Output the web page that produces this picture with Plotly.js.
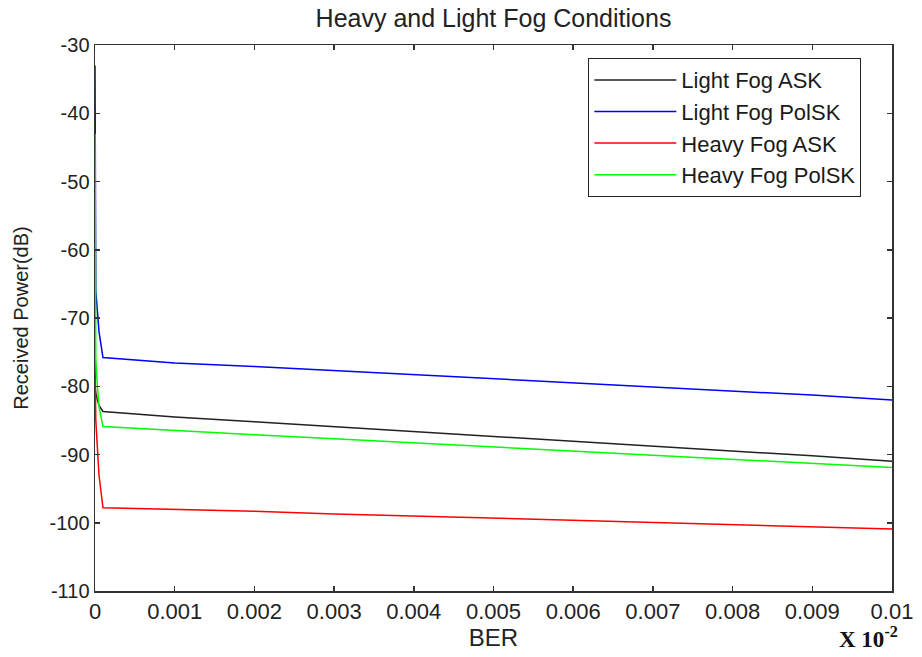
<!DOCTYPE html>
<html>
<head>
<meta charset="utf-8">
<script src="https://cdn.plot.ly/plotly-3.0.1.min.js"></script>
<style>html,body{margin:0;padding:0;background:#fff;}#chart{width:922px;height:657px;}</style>
</head>
<body>
<div id="chart"></div>
<script>
// BER (x) sample points
const ber = [0, 0.00001, 0.00003, 0.00005, 0.0001, 0.001, 0.002, 0.003, 0.004, 0.005, 0.006, 0.007, 0.008, 0.009, 0.01];
// Received power (dB)
const lightFogASK   = [-80, -81, -82, -82.8, -83.7, -84.5, -85.2, -85.9, -86.6, -87.3, -88.0, -88.7, -89.4, -90.2, -91.0];
const lightFogPolSK = [-33, -66, -69, -72, -75.8, -76.6, -77.1, -77.7, -78.3, -78.9, -79.4, -80.1, -80.7, -81.3, -82.0];
const heavyFogASK   = [-76, -85, -89, -93, -97.8, -98.0, -98.3, -98.7, -99.0, -99.3, -99.7, -100.0, -100.3, -100.6, -100.9];
const heavyFogPolSK = [-43, -76, -80, -83, -85.9, -86.5, -87.1, -87.7, -88.3, -88.9, -89.5, -90.1, -90.7, -91.3, -91.9];

const seriesNames = ['Light Fog ASK', 'Light Fog PolSK', 'Heavy Fog ASK', 'Heavy Fog PolSK'];
const xTickVals = [0, 0.001, 0.002, 0.003, 0.004, 0.005, 0.006, 0.007, 0.008, 0.009, 0.01];
const xTickText = ['0', '0.001', '0.002', '0.003', '0.004', '0.005', '0.006', '0.007', '0.008', '0.009', '0.01'];
const yTickVals = [-110, -100, -90, -80, -70, -60, -50, -40, -30];
const yTickText = ['-110', '-100', '-90', '-80', '-70', '-60', '-50', '-40', '-30'];

const colors = ['#222222', '#0000ff', '#ff0000', '#00ff00'];
const ys = [lightFogASK, lightFogPolSK, heavyFogASK, heavyFogPolSK];

const traces = ys.map((y, i) => ({
  x: ber, y: y, type: 'scatter', mode: 'lines', name: seriesNames[i],
  line: {color: colors[i], width: 1.5}
}));

const fam = 'Liberation Sans, Arial, sans-serif';
const txt = '#222';

const layout = {
  width: 922, height: 657,
  margin: {l: 95, r: 30, t: 45, b: 66},
  paper_bgcolor: '#fff', plot_bgcolor: '#fff',
  font: {family: fam, color: txt, size: 20},
  title: {text: 'Heavy and Light Fog Conditions', font: {family: fam, size: 25, color: txt},
          x: 0.5, xref: 'paper', y: 1 - 18/657, yref: 'container', yanchor: 'middle'},
  xaxis: {
    range: [0, 0.01], tickvals: xTickVals, ticktext: xTickText,
    showline: true, linecolor: '#333', linewidth: 1.5, mirror: 'ticks',
    ticks: 'inside', ticklen: 5, tickcolor: '#333', tickwidth: 1.5,
    showgrid: false, zeroline: false,
    tickfont: {family: fam, size: 22, color: txt},
    title: {text: 'BER', font: {family: fam, size: 24, color: txt}, standoff: 6}
  },
  yaxis: {
    range: [-110, -30], tickvals: yTickVals, ticktext: yTickText,
    showline: true, linecolor: '#333', linewidth: 1.5, mirror: 'ticks',
    ticks: 'inside', ticklen: 5, tickcolor: '#333', tickwidth: 1.5,
    showgrid: false, zeroline: false,
    tickfont: {family: fam, size: 20, color: txt},
    title: {text: 'Received Power(dB)', font: {family: fam, size: 20, color: txt}, standoff: 15}
  },
  legend: {
    x: 0.619, y: 0.976, xanchor: 'left', yanchor: 'top',
    bgcolor: '#fff', bordercolor: '#222', borderwidth: 1,
    font: {family: fam, size: 22, color: '#1a1a1a'},
    itemwidth: 82
  },
  showlegend: true,
  annotations: [{
    text: '<b>X 10<sup>-2</sup></b>', xref: 'paper', yref: 'paper',
    x: 1.01, y: -0.085, xanchor: 'right', yanchor: 'middle', showarrow: false,
    font: {family: 'Liberation Serif, Times New Roman, serif', size: 23, color: '#111'}
  }]
};

Plotly.newPlot('chart', traces, layout, {displayModeBar: false, staticPlot: true});
</script>
</body>
</html>
